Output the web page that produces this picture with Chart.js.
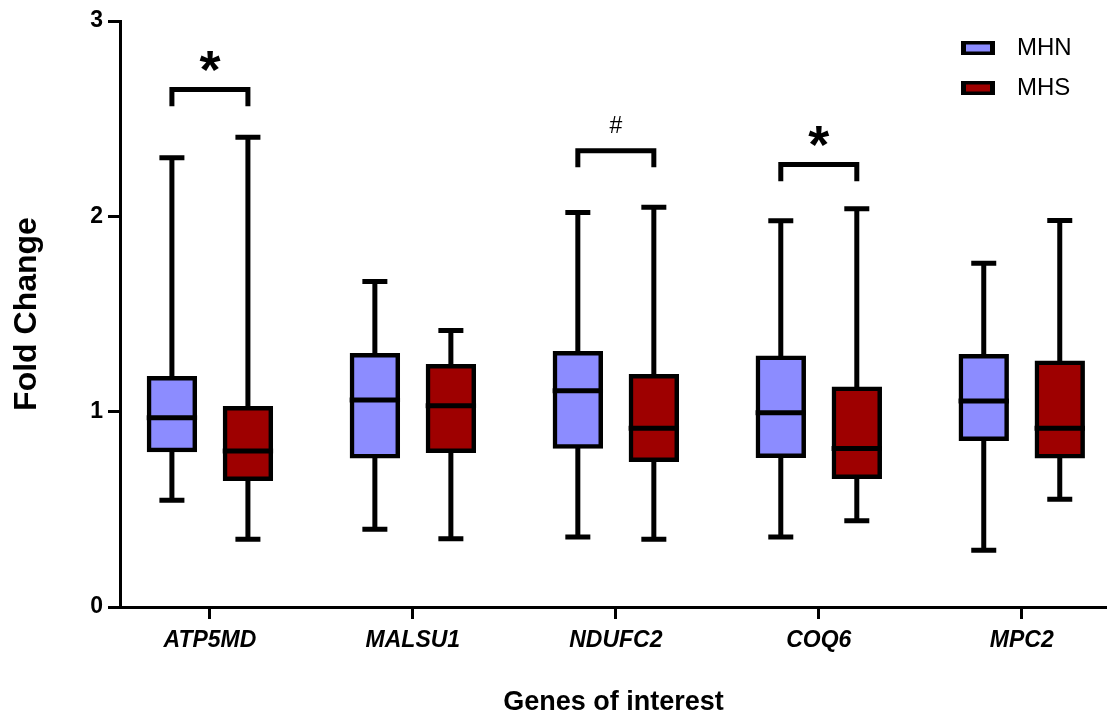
<!DOCTYPE html>
<html>
<head>
<meta charset="utf-8">
<script src="https://cdn.jsdelivr.net/npm/chart.js@4.4.1/dist/chart.umd.min.js"></script>
<style>
  html, body { margin: 0; padding: 0; background: #fff; }
  #wrap { width: 1107px; height: 716px; }
</style>
</head>
<body>
<div id="wrap"><canvas id="chart" width="1107" height="716"></canvas></div>
<script>
// genes on the x axis
const genes = ['ATP5MD', 'MALSU1', 'NDUFC2', 'COQ6', 'MPC2'];
const yTicks = [0, 1, 2, 3];

// MHN box plot stats (one value per gene)
const mhnMin    = [0.547, 0.398, 0.359, 0.359, 0.291];
const mhnQ1     = [0.803, 0.770, 0.821, 0.773, 0.860];
const mhnMedian = [0.969, 1.060, 1.107, 0.995, 1.055];
const mhnQ3     = [1.172, 1.290, 1.300, 1.277, 1.285];
const mhnMax    = [2.300, 1.666, 2.020, 1.977, 1.760];

// MHS box plot stats
const mhsMin    = [0.347, 0.349, 0.347, 0.441, 0.551];
const mhsQ1     = [0.655, 0.798, 0.752, 0.665, 0.770];
const mhsMedian = [0.798, 1.030, 0.915, 0.812, 0.915];
const mhsQ3     = [1.019, 1.234, 1.183, 1.119, 1.252];
const mhsMax    = [2.405, 1.415, 2.047, 2.039, 1.979];

// significance brackets: gene index, bracket height, mark
const sigGene = [0, 2, 3];
const sigTop  = [2.649, 2.336, 2.265];
const sigMark = ['*', '#', '*'];

const FONT = '"Liberation Sans", Arial, Helvetica, sans-serif';

function boxData(q1, q3) {
  return genes.map((g, i) => ({ x: i, y: [q1[i], q3[i]] }));
}

// whiskers, caps and medians on top of the boxes
const boxPlotParts = {
  id: 'boxPlotParts',
  afterDatasetsDraw(chart) {
    const ctx = chart.ctx;
    const y = chart.scales.y;
    ctx.save();
    ctx.strokeStyle = '#000';
    ctx.lineWidth = 5;
    chart.data.datasets.forEach((ds, di) => {
      const meta = chart.getDatasetMeta(di);
      meta.data.forEach((bar, i) => {
        const x = bar.x;
        const yMax = y.getPixelForValue(ds.whiskerMax[i]);
        const yMin = y.getPixelForValue(ds.whiskerMin[i]);
        const yQ3 = y.getPixelForValue(ds.data[i].y[1]);
        const yQ1 = y.getPixelForValue(ds.data[i].y[0]);
        const yMed = y.getPixelForValue(ds.median[i]);
        ctx.beginPath();
        ctx.moveTo(x, yMax); ctx.lineTo(x, yQ3);
        ctx.moveTo(x, yQ1); ctx.lineTo(x, yMin);
        ctx.moveTo(x - 12.5, yMax); ctx.lineTo(x + 12.5, yMax);
        ctx.moveTo(x - 12.5, yMin); ctx.lineTo(x + 12.5, yMin);
        ctx.moveTo(x - bar.width / 2 - 2, yMed); ctx.lineTo(x + bar.width / 2 + 2, yMed);
        ctx.stroke();
      });
    });

    // significance brackets
    const m0 = chart.getDatasetMeta(0), m1 = chart.getDatasetMeta(1);
    sigGene.forEach((g, k) => {
      const x1 = m0.data[g].x, x2 = m1.data[g].x;
      const yt = y.getPixelForValue(sigTop[k]);
      const yb = y.getPixelForValue(sigTop[k] - 0.085);
      ctx.beginPath();
      ctx.moveTo(x1, yb); ctx.lineTo(x1, yt); ctx.lineTo(x2, yt); ctx.lineTo(x2, yb);
      ctx.stroke();
      ctx.fillStyle = '#000';
      ctx.textAlign = 'center';
      ctx.textBaseline = 'alphabetic';
      if (sigMark[k] === '*') {
        ctx.font = 'bold 54px ' + FONT;
        ctx.fillText(sigMark[k], (x1 + x2) / 2, yt - 2);
      } else {
        ctx.font = '23px ' + FONT;
        ctx.fillText(sigMark[k], (x1 + x2) / 2, yt - 18);
      }
    });
    ctx.restore();
  }
};

// legend in the top right corner
const legendBoxes = {
  id: 'legendBoxes',
  afterDraw(chart) {
    const ctx = chart.ctx;
    ctx.save();
    chart.data.datasets.forEach((ds, i) => {
      const bx = chart.width - 146, by = 41 + i * 40;
      ctx.fillStyle = '#000';
      ctx.fillRect(bx, by, 34, 14);
      ctx.fillStyle = ds.backgroundColor;
      ctx.fillRect(bx + 5, by + 3.5, 24, 7);
      ctx.font = '24px ' + FONT;
      ctx.textAlign = 'left';
      ctx.textBaseline = 'alphabetic';
      ctx.fillStyle = '#000';
      ctx.fillText(ds.label, bx + 56, by + 14);
    });
    ctx.restore();
  }
};

new Chart(document.getElementById('chart'), {
  type: 'bar',
  data: {
    datasets: [{
      label: 'MHN',
      data: boxData(mhnQ1, mhnQ3),
      median: mhnMedian, whiskerMin: mhnMin, whiskerMax: mhnMax,
      backgroundColor: '#8C8CFF',
      borderColor: '#000',
      borderWidth: 4.5,
      borderSkipped: false,
      inflateAmount: 2,
      categoryPercentage: 0.749,
      barPercentage: 0.61
    }, {
      label: 'MHS',
      data: boxData(mhsQ1, mhsQ3),
      median: mhsMedian, whiskerMin: mhsMin, whiskerMax: mhsMax,
      backgroundColor: '#9E0000',
      borderColor: '#000',
      borderWidth: 4.5,
      borderSkipped: false,
      inflateAmount: 2,
      categoryPercentage: 0.749,
      barPercentage: 0.61
    }]
  },
  options: {
    responsive: false,
    animation: false,
    devicePixelRatio: 1,
    layout: { padding: { top: 21, right: 0, left: 0, bottom: 0 } },
    plugins: {
      legend: { display: false },
      tooltip: { enabled: false }
    },
    scales: {
      x: {
        type: 'linear',
        offset: false,
        min: -0.443,
        max: 4.42,
        grid: { drawOnChartArea: false, offset: false, drawTicks: true, tickLength: 12, tickWidth: 3, tickColor: '#000' },
        border: { display: true, color: '#000', width: 3 },
        ticks: {
          stepSize: 1,
          includeBounds: false,
          autoSkip: false,
          maxRotation: 0,
          padding: 8,
          color: '#000',
          font: { family: FONT, size: 23, weight: 'bold', style: 'italic' },
          callback: v => genes[v]
        },
        title: {
          display: true,
          text: 'Genes of interest',
          color: '#000',
          font: { family: FONT, size: 27, weight: 'bold' },
          padding: { top: 0, bottom: -3 }
        },
        afterFit(scale) { scale.height = 109; }
      },
      y: {
        min: 0,
        max: 3,
        grid: { drawOnChartArea: false, drawTicks: true, tickLength: 12, tickWidth: 3, tickColor: '#000' },
        border: { display: true, color: '#000', width: 3 },
        afterBuildTicks(scale) { scale.ticks = yTicks.map(v => ({ value: v })); },
        ticks: {
          padding: 5,
          color: '#000',
          font: { family: FONT, size: 23, weight: 'bold' }
        },
        title: {
          display: true,
          text: 'Fold Change',
          color: '#000',
          font: { family: FONT, size: 32, weight: 'bold' },
          padding: { top: 8, bottom: 0 }
        },
        afterFit(scale) { scale.width = 120; }
      }
    }
  },
  plugins: [boxPlotParts, legendBoxes]
});
</script>
</body>
</html>
